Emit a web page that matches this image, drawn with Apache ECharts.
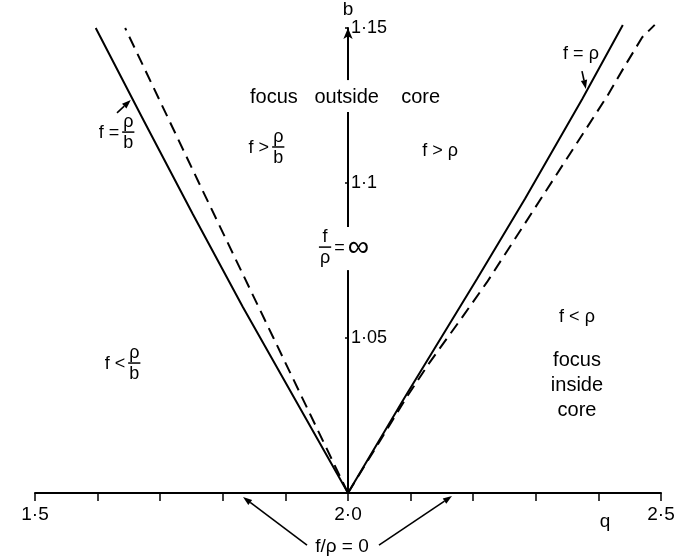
<!DOCTYPE html>
<html>
<head>
<meta charset="utf-8">
<script src="https://cdn.jsdelivr.net/npm/echarts/dist/echarts.min.js"></script>
<style>
  html, body { margin: 0; padding: 0; background: #fff; }
  #chart { width: 684px; height: 557px; }
</style>
</head>
<body>
<div id="chart"></div>
<script>
// Axis ranges and labelled ticks
const qRange = [1.5, 2.5];
const bRange = [1.0, 1.15];
const qLabelled = [1.5, 2.0, 2.5];
const bLabelled = [1.05, 1.1, 1.15];

// f = rho/b boundary (left, solid)
const leftSolidQ = [2.0, 1.916, 1.832, 1.752, 1.674, 1.597];
const leftSolidB = [1.0, 1.03, 1.06, 1.09, 1.12, 1.15];

// left dashed boundary
const leftDashQ = [2.0, 1.881, 1.762, 1.644];
const leftDashB = [1.0, 1.05, 1.10, 1.15];

// f = rho boundary (right, solid)
const rightSolidQ = [2.0, 2.091, 2.206, 2.283, 2.374, 2.439];
const rightSolidB = [1.0, 1.031, 1.069, 1.095, 1.127, 1.151];

// right dashed boundary
const rightDashQ = [2.0, 2.094, 2.130, 2.180, 2.222, 2.318, 2.366, 2.414, 2.440, 2.470, 2.490];
const rightDashB = [1.0, 1.031, 1.042, 1.056, 1.068, 1.098, 1.113, 1.128, 1.137, 1.147, 1.151];

const FONT = '"Liberation Sans", Arial, sans-serif';
const pairs = (qs, bs) => qs.map((q, i) => [q, bs[i]]);
const qFmt = v => v.toFixed(1).replace('.', '\u00B7');
const bFmt = v => String(+v.toFixed(2)).replace('.', '\u00B7');
const near = (v, list) => list.some(t => Math.abs(t - v) < 1e-6);

const chart = echarts.init(document.getElementById('chart'), null, { renderer: 'canvas' });

const curve = (qs, bs, dashed) => ({
  type: 'line',
  data: pairs(qs, bs),
  symbol: 'none',
  clip: false,
  animation: false,
  silent: true,
  lineStyle: { color: '#000', width: 2, type: dashed ? [12, 7] : 'solid' }
});

chart.setOption({
  backgroundColor: '#fff',
  animation: false,
  grid: { left: 35, right: 23, top: 28, bottom: 64 },
  xAxis: {
    type: 'value', min: qRange[0], max: qRange[1], interval: 0.1,
    axisLine: { lineStyle: { color: '#000', width: 2 } },
    axisTick: { show: true, length: 8, inside: false, lineStyle: { color: '#000', width: 1.5 } },
    splitLine: { show: false },
    axisLabel: {
      color: '#000', fontSize: 19, fontFamily: FONT, margin: 12,
      formatter: v => near(v, qLabelled) ? qFmt(v) : ''
    }
  },
  yAxis: {
    type: 'value', min: bRange[0], max: bRange[1], interval: 0.05,
    position: 'left', offset: -313,
    name: 'b', nameLocation: 'end', nameGap: 6,
    nameTextStyle: { color: '#000', fontSize: 19, fontFamily: FONT, align: 'center' },
    axisLine: { show: true, symbol: ['none', 'arrow'], symbolSize: [7, 11], lineStyle: { color: '#000', width: 2 } },
    axisTick: { show: true, length: 3, inside: false, lineStyle: { color: '#000', width: 1.5 } },
    splitLine: { show: false },
    axisLabel: {
      inside: true, margin: 3, color: '#000', fontSize: 18, fontFamily: FONT,
      formatter: v => near(v, bLabelled) ? bFmt(v) : ''
    }
  },
  series: [
    curve(leftSolidQ, leftSolidB, false),
    curve(leftDashQ, leftDashB, true),
    curve(rightSolidQ, rightSolidB, false),
    curve(rightDashQ, rightDashB, true)
  ]
});

// ---- annotations placed in (q, b) space ----
const px = (q, b) => chart.convertToPixel({ gridIndex: 0 }, [q, b]);
const mctx = document.createElement('canvas').getContext('2d');
const tw = (s, size) => { mctx.font = size + 'px ' + FONT; return mctx.measureText(s).width; };

const els = [];
const txt = (x, y, s, size, align, va, extra) => els.push(Object.assign({
  type: 'text', x, y, z: 60,
  style: { text: s, fill: '#000', fontSize: size, fontFamily: FONT, align: align || 'center', verticalAlign: va || 'middle' }
}, extra || {}));

// formula: sequence of plain strings, {t,size} pieces, or {num, den} fractions, centred on (q,b)
function formula(q, b, parts, size) {
  const [cx, cy] = px(q, b);
  const gap = 3;
  const ws = parts.map(p => {
    if (typeof p === 'string') return tw(p, size);
    if (p.num !== undefined) return Math.max(tw(p.num, size), tw(p.den, size)) + 2;
    return tw(p.t, p.size);
  });
  const total = ws.reduce((a, w) => a + w, 0) + gap * (parts.length - 1);
  let x = cx - total / 2;
  parts.forEach((p, i) => {
    const w = ws[i];
    if (typeof p === 'string') {
      txt(x, cy, p, size, 'left', 'middle');
    } else if (p.num !== undefined) {
      const mid = x + w / 2;
      els.push({ type: 'line', z: 60, shape: { x1: x, y1: cy - 1, x2: x + w, y2: cy - 1 }, style: { stroke: '#000', lineWidth: 1.5 } });
      txt(mid, cy - 2, p.num, size, 'center', 'bottom');
      txt(mid, cy + 1, p.den, size, 'center', 'top');
    } else {
      txt(x, cy, p.t, p.size, 'left', 'middle');
    }
    x += w + gap;
  });
}

function arrow(q1, b1, q2, b2) {
  const [x1, y1] = px(q1, b1);
  const [x2, y2] = px(q2, b2);
  const ang = Math.atan2(y2 - y1, x2 - x1);
  const L = 9, W = 3.2;
  const bx = x2 - L * Math.cos(ang), by = y2 - L * Math.sin(ang);
  els.push({ type: 'line', z: 60, shape: { x1, y1, x2: bx, y2: by }, style: { stroke: '#000', lineWidth: 1.6 } });
  els.push({ type: 'polygon', z: 60, shape: { points: [
    [x2, y2],
    [bx + W * Math.sin(ang), by - W * Math.cos(ang)],
    [bx - W * Math.sin(ang), by + W * Math.cos(ang)]
  ] }, style: { fill: '#000' } });
}

// breaks in the b axis behind the region labels
function axisBreak(b1, b2) {
  const [ax, y1] = px(2.0, b2);
  const [, y2] = px(2.0, b1);
  els.push({ type: 'rect', z: 50, shape: { x: ax - 5, y: y1, width: 10, height: y2 - y1 }, style: { fill: '#fff' } });
}

axisBreak(1.1229, 1.1332);
axisBreak(1.0719, 1.0858);

txt(...px(1.9952, 1.1277), 'focus   outside    core', 20);
formula(1.8698, 1.1113, ['f >', { num: '\u03C1', den: 'b' }], 18);
formula(2.147, 1.1103, ['f > \u03C1'], 18);
formula(2.3722, 1.1416, ['f = \u03C1'], 18);
arrow(2.3738, 1.1361, 2.380, 1.1303);
formula(1.6302, 1.1161, ['f =', { num: '\u03C1', den: 'b' }], 18);
arrow(1.631, 1.1226, 1.653, 1.1268);
formula(1.9936, 1.079, [{ num: 'f', den: '\u03C1' }, '=', { t: '\u221E', size: 30 }], 18);
formula(1.6398, 1.0416, ['f <', { num: '\u03C1', den: 'b' }], 18);
formula(2.3658, 1.0568, ['f < \u03C1'], 18);
els.push({ type: 'text', x: px(2.3658, 1.0348)[0], y: px(2.3658, 1.0348)[1], z: 60,
  style: { text: 'focus\ninside\ncore', fill: '#000', fontSize: 20, fontFamily: FONT, align: 'center', verticalAlign: 'middle', lineHeight: 25 } });
formula(1.9904, 0.9826, ['f/\u03C1 = 0'], 19);
arrow(1.9345, 0.9832, 1.8323, 0.9987);
arrow(2.0495, 0.9832, 2.1661, 0.9990);
txt(...px(2.4105, 0.9906), 'q', 19);

chart.setOption({ graphic: { elements: els } });
</script>
</body>
</html>
